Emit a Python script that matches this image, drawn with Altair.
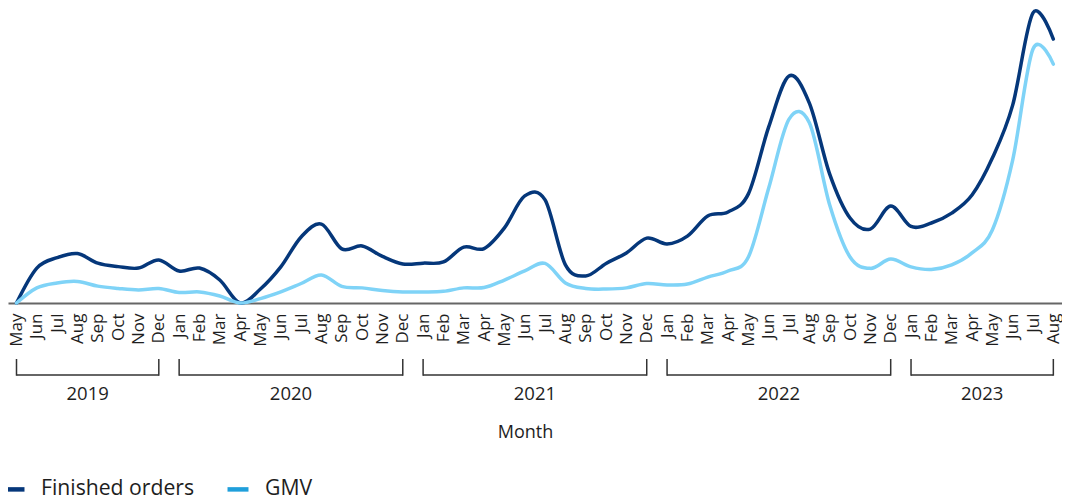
import altair as alt
import pandas as pd

# ---------------- data ----------------
MONTHS = ["May", "Jun", "Jul", "Aug", "Sep", "Oct", "Nov", "Dec",
          "Jan", "Feb", "Mar", "Apr", "May", "Jun", "Jul", "Aug", "Sep", "Oct", "Nov", "Dec",
          "Jan", "Feb", "Mar", "Apr", "May", "Jun", "Jul", "Aug", "Sep", "Oct", "Nov", "Dec",
          "Jan", "Feb", "Mar", "Apr", "May", "Jun", "Jul", "Aug", "Sep", "Oct", "Nov", "Dec",
          "Jan", "Feb", "Mar", "Apr", "May", "Jun", "Jul", "Aug"]
YEAR_NAMES = ["2019", "2020", "2021", "2022", "2023"]
YEAR_MONTH_COUNTS = [8, 12, 12, 12, 8]

FINISHED_ORDERS = [0.0, 12.0, 15.6, 17.0, 13.7, 12.5, 12.0, 14.8,
                   11.0, 12.0, 7.9, 0.0, 4.8, 12.4, 22.7, 27.1, 18.6, 19.6, 16.0, 13.4,
                   13.7, 14.1, 19.2, 18.7, 25.8, 36.8, 35.4, 13.1, 9.3, 13.6, 17.2, 22.3,
                   20.3, 23.0, 29.9, 31.3, 37.5, 60.5, 78.0, 68.7, 44.3, 29.2, 25.4, 33.3,
                   26.3, 27.5, 30.9, 37.1, 49.8, 68.0, 99.7, 90.7]
GMV = [0.0, 5.2, 6.9, 7.4, 5.8, 5.0, 4.5, 5.0,
       3.6, 3.8, 2.4, 0.0, 1.5, 3.8, 6.7, 9.6, 5.7, 5.2, 4.3, 3.8,
       3.8, 4.0, 5.2, 5.3, 7.9, 11.0, 13.6, 6.9, 5.0, 4.8, 5.2, 6.7,
       6.2, 6.5, 8.9, 11.0, 15.8, 39.5, 63.2, 61.9, 33.7, 15.8, 11.9, 15.1,
       12.4, 11.5, 13.1, 17.2, 25.1, 49.1, 87.3, 82.1]
SERIES = ["Finished orders", "GMV"]

# ---------------- styles ----------------
DARK = "#05377a"
LIGHT = "#7fd3f7"
LEGEND_LIGHT = "#1f9fdb"
TEXT = "#1e1e1e"
FONT = "Open Sans"
W, H = 1054, 291

# ---------------- tables ----------------
idx = list(range(len(MONTHS)))
wide = pd.DataFrame({"i": idx, "month": MONTHS,
                     SERIES[0]: FINISHED_ORDERS, SERIES[1]: GMV})
long_df = wide.melt(id_vars=["i", "month"], value_vars=SERIES,
                    var_name="series", value_name="value")

starts, ends = [], []
pos = 0
for n in YEAR_MONTH_COUNTS:
    starts.append(pos)
    ends.append(pos + n - 1)
    pos += n
years_df = pd.DataFrame({"year": YEAR_NAMES, "start": starts, "end": ends})
years_df["mid"] = (years_df["start"] + years_df["end"]) / 2
edges_df = pd.DataFrame({"edge": starts + ends})

x_scale = alt.Scale(domain=[-0.418, 51.426], nice=False, zero=False)
y_scale = alt.Scale(domain=[0, 100], nice=False, zero=True)
label_expr = "[" + ",".join(f"'{m}'" for m in MONTHS) + "][datum.value]"

x_axis = alt.Axis(values=idx, labelExpr=label_expr, labelAngle=-90,
                  labelFontSize=17, labelFont=FONT, labelColor=TEXT,
                  labelPadding=10, labelOverlap=False, labelFlush=False,
                  labelSeparation=0,
                  ticks=False, grid=False, domainColor="#666666", domainWidth=2,
                  title="Month", titleFont=FONT, titleFontSize=18,
                  titleFontWeight="normal", titleColor=TEXT,
                  titleX=517, titleY=129, titleBaseline="middle", titleAlign="center")

lines = alt.Chart(long_df).mark_line(
    interpolate="cardinal", strokeWidth=3.5, strokeCap="round", strokeJoin="round"
).encode(
    x=alt.X("i:Q", scale=x_scale, axis=x_axis, title="Month"),
    y=alt.Y("value:Q", scale=y_scale, axis=None),
    color=alt.Color("series:N", scale=alt.Scale(domain=SERIES, range=[DARK, LIGHT]),
                    legend=None),
    order=alt.Order("i:Q"),
)

legend_layer = alt.Chart(long_df).transform_filter("false").mark_line(
    strokeWidth=4.5
).encode(
    x=alt.X("i:Q", scale=x_scale, axis=x_axis, title="Month"),
    y=alt.Y("value:Q", scale=y_scale, axis=None),
    color=alt.Color("series:N",
                    scale=alt.Scale(domain=SERIES, range=[DARK, LEGEND_LIGHT]),
                    legend=alt.Legend(orient="none", legendX=-7, legendY=464,
                                      direction="horizontal", title=None,
                                      symbolType="stroke", symbolSize=440,
                                      symbolStrokeWidth=4.5, labelFontSize=21.2,
                                      labelFont=FONT, labelColor=TEXT,
                                      labelOffset=14, columnPadding=23,
                                      padding=0)),
)

bracket_h = alt.Chart(years_df).mark_rule(color="#333333", strokeWidth=1.5).encode(
    x=alt.X("start:Q", scale=x_scale, axis=x_axis, title="Month"),
    x2="end:Q", y=alt.value(363)
)
bracket_v = alt.Chart(edges_df).mark_rule(color="#333333", strokeWidth=1.5).encode(
    x=alt.X("edge:Q", scale=x_scale, axis=x_axis, title="Month"),
    y=alt.value(347), y2=alt.value(363.7)
)
year_text = alt.Chart(years_df).mark_text(
    font=FONT, fontSize=18.5, color=TEXT, baseline="middle", align="center"
).encode(
    x=alt.X("mid:Q", scale=x_scale, axis=x_axis, title="Month"),
    y=alt.value(382), text="year:N"
)

chart = alt.layer(lines, legend_layer, bracket_h, bracket_v, year_text).resolve_scale(
    color="independent"
).properties(
    width=W, height=H, autosize=alt.AutoSizeParams(type="none"),
    padding={"left": 0, "top": 4, "right": 0, "bottom": 205},
    background="white",
).configure_view(stroke=None).configure_axisX(labelOverlap=False, labelSeparation=0)

chart.save("out.html", embed_options={"renderer": "svg", "actions": False})
